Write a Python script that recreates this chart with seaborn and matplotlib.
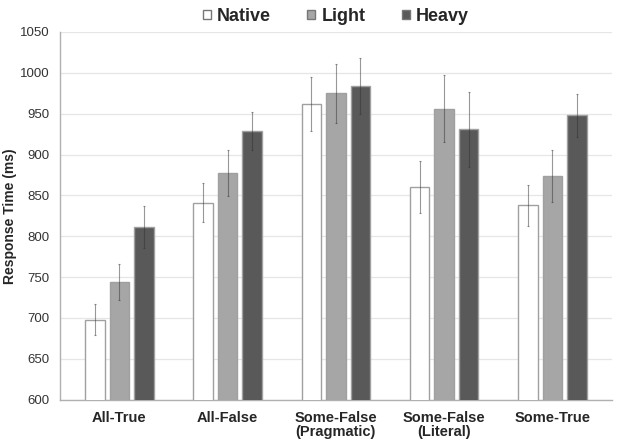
import pandas as pd
import seaborn as sns
import matplotlib.pyplot as plt
import numpy as np

# Data
conditions = ['All-True', 'All-False', 'Some-False\n(Pragmatic)', 'Some-False\n(Literal)', 'Some-True']
groups = ['Native', 'Light', 'Heavy']
native = [698, 841, 962, 860, 838]
light = [744, 877, 975, 956, 874]
heavy = [811, 929, 984, 931, 948]
native_err = [19, 24, 33, 32, 25]
light_err = [22, 28, 36, 41, 32]
heavy_err = [26, 23, 34, 46, 26]

df = pd.DataFrame({
    'condition': conditions * 3,
    'group': np.repeat(groups, len(conditions)),
    'rt': native + light + heavy,
    'err': native_err + light_err + heavy_err,
})

sns.set_theme(style='white')
plt.rcParams['font.family'] = ['Liberation Sans', 'DejaVu Sans']

fig, ax = plt.subplots(figsize=(6.18, 4.44), dpi=100)
palette = {'Native': '#ffffff', 'Light': '#a6a6a6', 'Heavy': '#595959'}
sns.barplot(data=df, x='condition', y='rt', hue='group', hue_order=groups,
            order=conditions, palette=palette, errorbar=None, width=0.68,
            gap=0.2, edgecolor='#a0a0a0', linewidth=1.0, ax=ax, zorder=3)

# error bars at the bar centres that seaborn placed
for cont, g in zip(ax.containers, groups):
    sub = df[df['group'] == g].set_index('condition').loc[conditions]
    xs = [p.get_x() + p.get_width() / 2 for p in cont.patches]
    ax.errorbar(xs, sub['rt'], yerr=sub['err'], fmt='none', ecolor='#333333',
                elinewidth=0.8, capsize=1.0, capthick=0.8, alpha=0.5, zorder=4)

ax.set_ylim(600, 1050)
ax.set_yticks(range(600, 1051, 50))
ax.yaxis.grid(True, color='#e6e6e6', linewidth=0.9, zorder=0)
ax.set_axisbelow(True)
ax.set_xlabel('')
ax.set_ylabel('Response Time (ms)', fontsize=10, fontweight='bold', labelpad=2)
ax.tick_params(axis='y', labelsize=9.5, colors='#333333', length=4, width=0.8)
ax.tick_params(axis='x', labelsize=10.5, length=0, pad=8)
for lab in ax.get_xticklabels():
    lab.set_fontweight('bold')
    lab.set_linespacing(1.0)
for s in ['top', 'right']:
    ax.spines[s].set_visible(False)
for s in ['left', 'bottom']:
    ax.spines[s].set_color('#b0b0b0')
    ax.spines[s].set_linewidth(1.0)

leg = ax.legend(loc='lower center', bbox_to_anchor=(0.5, 0.975), ncol=3, frameon=False,
                handlelength=0.45, handleheight=0.45, handletextpad=0.35, columnspacing=2.0,
                prop={'weight': 'bold', 'size': 13})
for h in leg.legend_handles:
    h.set_edgecolor('#777777')

fig.subplots_adjust(left=0.097, right=0.99, top=0.928, bottom=0.10)
plt.savefig('out.png', dpi=100)
